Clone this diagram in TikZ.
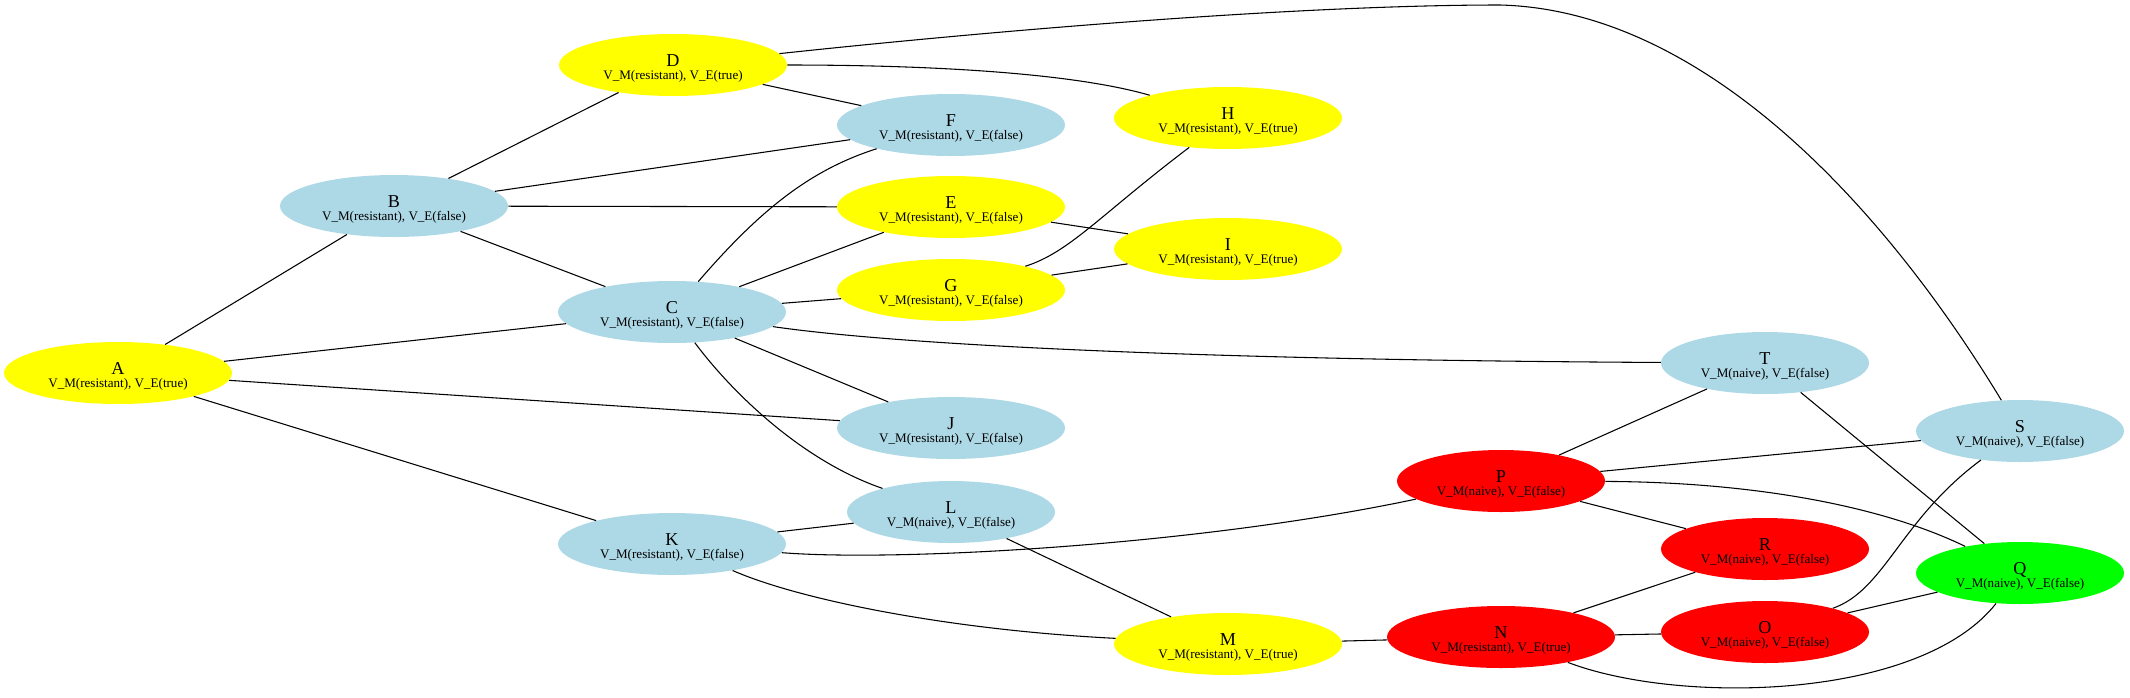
\documentclass[tikz,border=0pt]{standalone}
\usepackage{fontspec}
\setmainfont{Liberation Serif}
\usetikzlibrary{shapes.geometric}
\definecolor{nodeyellow}{RGB}{255,255,0}
\definecolor{nodeblue}{RGB}{173,216,230}
\definecolor{nodered}{RGB}{255,0,0}
\definecolor{nodegreen}{RGB}{0,255,0}
\newcommand{\nm}[1]{{\fontsize{13.6}{14}\selectfont\rule{0pt}{13.4pt}#1}}
\begin{document}
\begin{tikzpicture}[x=0.75pt,y=-0.75pt,
  gnode/.style={ellipse, draw=none, inner sep=0pt, minimum height=46.5pt, align=center,
    font=\fontsize{9.8}{9.75}\selectfont},
  res/.style={gnode, minimum width=171pt},
  nai/.style={gnode, minimum width=156pt},
  yel/.style={fill=nodeyellow},
  blu/.style={fill=nodeblue},
  rd/.style={fill=nodered},
  grn/.style={fill=nodegreen},
  edge/.style={draw=black, line width=0.8pt}]
\useasboundingbox (0,0) rectangle (2130,697);
% nodes
\node[res,yel] (A) at (118,373) {\nm{A}\\V\_M(resistant), V\_E(true)};
\node[res,blu] (B) at (394,206) {\nm{B}\\V\_M(resistant), V\_E(false)};
\node[res,blu] (C) at (672,312) {\nm{C}\\V\_M(resistant), V\_E(false)};
\node[res,yel] (D) at (673,65) {\nm{D}\\V\_M(resistant), V\_E(true)};
\node[res,yel] (E) at (951,207) {\nm{E}\\V\_M(resistant), V\_E(false)};
\node[res,blu] (F) at (951,125) {\nm{F}\\V\_M(resistant), V\_E(false)};
\node[res,yel] (G) at (951,290) {\nm{G}\\V\_M(resistant), V\_E(false)};
\node[res,yel] (H) at (1228,118) {\nm{H}\\V\_M(resistant), V\_E(true)};
\node[res,yel] (I) at (1228,249) {\nm{I}\\V\_M(resistant), V\_E(true)};
\node[res,blu] (J) at (951,428) {\nm{J}\\V\_M(resistant), V\_E(false)};
\node[res,blu] (K) at (672,544) {\nm{K}\\V\_M(resistant), V\_E(false)};
\node[nai,blu] (L) at (951,512) {\nm{L}\\V\_M(naive), V\_E(false)};
\node[res,yel] (M) at (1228,644) {\nm{M}\\V\_M(resistant), V\_E(true)};
\node[res,rd] (N) at (1501,637) {\nm{N}\\V\_M(resistant), V\_E(true)};
\node[nai,rd] (O) at (1765,632) {\nm{O}\\V\_M(naive), V\_E(false)};
\node[nai,rd] (P) at (1501,481) {\nm{P}\\V\_M(naive), V\_E(false)};
\node[nai,grn] (Q) at (2020,573) {\nm{Q}\\V\_M(naive), V\_E(false)};
\node[nai,rd] (R) at (1765,549) {\nm{R}\\V\_M(naive), V\_E(false)};
\node[nai,blu] (S) at (2020,431) {\nm{S}\\V\_M(naive), V\_E(false)};
\node[nai,blu] (T) at (1765,363) {\nm{T}\\V\_M(naive), V\_E(false)};
\coordinate (dstop) at (1500,5);
% straight edges
\draw[edge] (A) -- (B);
\draw[edge] (A) -- (C);
\draw[edge] (A) -- (J);
\draw[edge] (A) -- (K);
\draw[edge] (B) -- (D);
\draw[edge] (B) -- (F);
\draw[edge] (B) -- (E);
\draw[edge] (B) -- (C);
\draw[edge] (C) -- (E);
\draw[edge] (C) -- (G);
\draw[edge] (C) -- (J);
\draw[edge] (D) -- (F);
\draw[edge] (E) -- (I);
\draw[edge] (G) -- (I);
\draw[edge] (K) -- (L);
\draw[edge] (L) -- (M);
\draw[edge] (M) -- (N);
\draw[edge] (N) -- (R);
\draw[edge] (N) -- (O);
\draw[edge] (O) -- (Q);
\draw[edge] (P) -- (T);
\draw[edge] (P) -- (S);
\draw[edge] (P) -- (R);
\draw[edge] (T) -- (Q);
% curved edges
\draw[edge] (C) .. controls (760,210) and (810,170) .. (F);
\draw[edge] (C) .. controls (730,390) and (800,460) .. (L);
\draw[edge] (C) .. controls (900,345) and (1200,360) .. (T);
\draw[edge] (D) .. controls (950,65) and (1080,75) .. (H);
\draw[edge] (D) .. controls (1000,30) and (1300,5) .. (dstop)
  .. controls (1700,10) and (1880,200) .. (S);
\draw[edge] (G) .. controls (1070,252) and (1100,215) .. (H);
\draw[edge] (K) .. controls (900,562) and (1200,545) .. (P);
\draw[edge] (K) .. controls (800,600) and (950,630) .. (M);
\draw[edge] (P) .. controls (1750,482) and (1880,505) .. (Q);
\draw[edge] (O) .. controls (1885,590) and (1900,520) .. (S);
\draw[edge] (N) .. controls (1680,705) and (1920,700) .. (Q);
\end{tikzpicture}
\end{document}
